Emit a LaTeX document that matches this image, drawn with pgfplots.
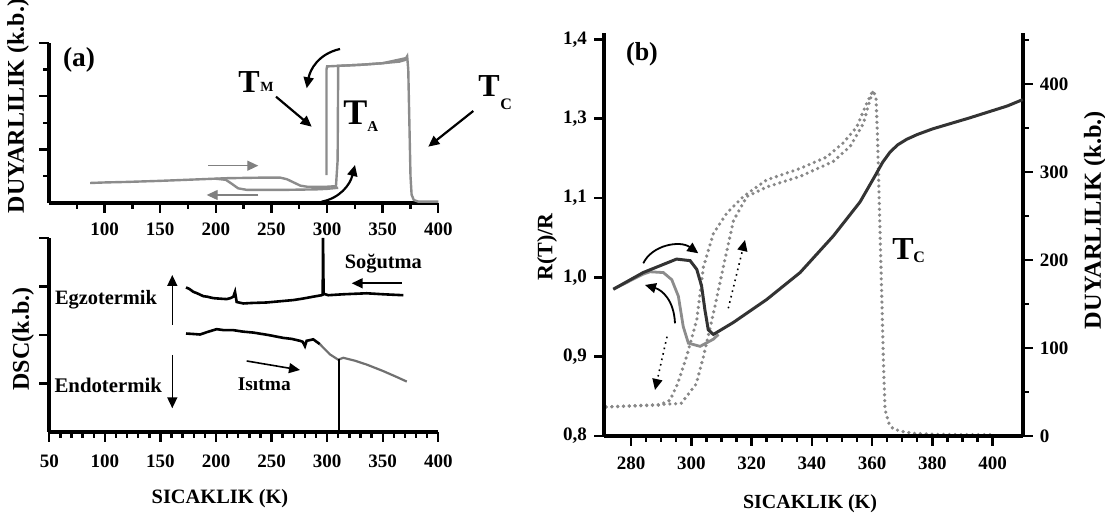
\documentclass[border=0pt]{standalone}
\usepackage{pgfplots}
\pgfplotsset{compat=1.18}
\usepackage{fontspec}
\setmainfont{Liberation Serif}
\usetikzlibrary{arrows.meta}
\definecolor{lgray}{HTML}{8C8C8C}
\definecolor{dgray}{HTML}{333333}
\definecolor{dotgray}{HTML}{888888}
\begin{document}
\begin{tikzpicture}[font=\bfseries]
\path[use as bounding box] (0,0) rectangle (552.5pt,261pt);
\pgfplotsset{
  base/.style={scale only axis, anchor=south west, clip=false,
    axis line style={-, line width=2pt, black},
    tick align=outside, tick style={black, line width=1.2pt},
    major tick length=5pt, minor tick length=3pt,
    ticklabel style={font=\fontsize{9.5}{10}\selectfont\bfseries},
    /pgf/number format/assume math mode=true,
    /pgf/number format/set thousands separator={},
  },
}
% ---------------- panel (a) top ----------------
\begin{axis}[base, at={(24.5pt,159.65pt)}, width=194.65pt, height=79.85pt,
  xmin=50, xmax=400, ymin=0, ymax=3,
  axis x line*=bottom, axis y line*=left,
  xtick={100,150,...,400}, minor xtick={75,125,...,375},
  ytick={1,2,3}, yticklabels={}, minor ytick={0.5,1.5,2.5},
  xticklabel style={yshift=-1.5pt}]
\addplot[lgray, line width=1.2pt] coordinates {
 (87,0.37)(100,0.38)(120,0.39)(150,0.41)(186,0.44)(210,0.46)(240,0.47)(258,0.47)
 (264,0.44)(270,0.38)(276,0.32)(282,0.30)(300,0.30)(308,0.31)(309.5,0.8)(310,2.57)
 (330,2.59)(350,2.62)(365,2.65)(370,2.68)(372,2.75)(373,2.5)(374,1.5)(375,0.5)
 (376,0.15)(378,0.05)(382,0.02)(400,0.02)};
\addplot[lgray, line width=1.2pt] coordinates {
 (372,2.72)(350,2.62)(330,2.59)(310,2.57)(300,2.56)(299.5,2.5)(299.5,0.52)};
\addplot[lgray, line width=1.2pt] coordinates {
 (310,0.28)(300,0.26)(290,0.25)(260,0.24)(228,0.24)(220,0.27)(214,0.36)(209,0.43)(200,0.45)};
\end{axis}
% ---------------- panel (a) bottom ----------------
\begin{axis}[base, at={(24.65pt,45pt)}, width=194.5pt, height=97pt,
  xmin=50, xmax=400, ymin=0, ymax=4,
  axis x line*=bottom, axis y line*=left,
  xtick={50,100,...,400}, minor x tick num=4,
  ytick={1,2,3,4}, yticklabels={},
  xticklabel style={yshift=-3pt}]
\addplot[black, line width=1.3pt] coordinates {
 (173,2.98)(176,2.95)(179.6,2.89)(183,2.86)(188.6,2.80)(192,2.79)(197.5,2.76)(203,2.75)
 (209.6,2.74)(213,2.76)(215.6,2.79)(217.1,2.89)(218.6,2.68)(224.6,2.65)(232,2.66)
 (245.6,2.67)(255,2.69)(269.5,2.72)(278,2.75)(287.5,2.79)(295,2.82)(296,2.83)
 (296.3,4.0)(296.8,2.85)(301,2.82)(315,2.84)(335.6,2.86)(350,2.84)(368.5,2.82)};
\addplot[black, line width=1.3pt] coordinates {
 (173,2.03)(180,2.02)(185.6,2.01)(192,2.06)(200.6,2.12)(207,2.10)(215.6,2.10)
 (224,2.07)(233.5,2.05)(247,2.00)(260.5,1.94)(268,1.92)(275.5,1.88)(278,1.86)(280,1.77)
 (281.5,1.88)(287.5,1.91)(293.5,1.81)};
\addplot[lgray!80!black, line width=1.1pt] coordinates {
 (293.5,1.81)(302.5,1.60)(310,1.49)(314.5,1.53)(325,1.47)(335.6,1.39)(350,1.26)(362,1.14)(371.6,1.04)};
\addplot[black, line width=1.3pt] coordinates {(310.5,1.50)(310.5,0)};
\end{axis}
% ---------------- panel (b) ----------------
\begin{axis}[base, at={(302pt,43pt)}, width=209.35pt, height=201.5pt,
  xmin=271, xmax=410, ymin=0, ymax=458,
  axis y line*=right, axis x line=none,
  ytick={0,100,...,400}, minor ytick={50,150,...,450}]
\addplot[dotgray, line width=1.8pt, line cap=round, dash pattern=on 0pt off 2.9pt] coordinates {
 (271.7,33)(280,34)(289.1,35)(292.9,40.5)(295.4,59)(298.4,90)(301.8,132)(304,192)
 (307.3,230)(311.7,253)(317.2,272)(325,291)(336.1,304)(344.9,317)(350.4,333)(354.9,351)
 (358.2,378)(359.9,390)(360.4,392)(361.3,385)(361.8,340)(362.5,250)(363.2,160)(363.8,80)
 (364.3,30)(365.5,15)(367,8)(370.3,5)(373.6,3)(380,2)(390,1.5)(400,1.5)};
\addplot[dotgray, line width=1.8pt, line cap=round, dash pattern=on 0pt off 2.9pt] coordinates {
 (271.7,33)(285,35)(296.6,37)(301.6,59)(304,90)(307.3,139)(310.6,192)(314,245)
 (318.4,272)(325,283)(336.1,295)(347.1,312)(352.7,329)(357.1,355)(359.3,382)(360.4,392)};
\end{axis}
\begin{axis}[base, at={(302pt,43pt)}, width=209.35pt, height=201.5pt,
  xmin=271, xmax=410, ymin=0.8, ymax=1.308,
  axis y line*=left, axis x line*=bottom,
  xtick={280,300,...,400}, minor x tick num=3,
  ytick={0.8,0.9,1.0,1.1,1.2,1.3}, yticklabels={{0,8},{0,9},{1,0},{1,1},{1,3},{1,4}},
  xticklabel style={yshift=-2pt}]
\addplot[lgray, line width=1.4pt] coordinates {
 (274.1,0.985)(284,1.004)(286.3,1.007)(290.7,1.006)(293.5,0.997)(295.7,0.976)
 (297.3,0.938)(299,0.917)(302.9,0.913)(307.3,0.922)(309,0.928)};
\addplot[dgray, line width=1.5pt] coordinates {
 (274.1,0.985)(284,1.006)(295.1,1.023)(299.6,1.021)(301.8,1.010)(303.4,0.989)(304.5,0.959)
 (305.6,0.934)(307.3,0.928)(313.9,0.943)(325,0.972)(336.1,1.006)(347.1,1.052)(356,1.095)
 (361,1.128)(363.5,1.145)(366,1.158)(368.5,1.167)(371.5,1.174)(375,1.180)(380,1.187)
 (392.4,1.201)(404.9,1.216)(410,1.224)};
\end{axis}
% ---------------- annotations (pixel coordinates) ----------------
\begin{scope}[shift={(0pt,261pt)}, x=0.5pt, y=-0.5pt]
\tikzset{ah/.style={-{Triangle[length=5.5pt,width=5pt]}}}
% panel a top
\node[font=\fontsize{13.7}{14}\selectfont\bfseries] at (79,60) {(a)};
\node[anchor=base west, inner sep=0, font=\fontsize{16}{16}\selectfont\bfseries] at (238,93) {T};
\node[anchor=base west, inner sep=0, font=\fontsize{7}{7}\selectfont\bfseries] at (260,92) {M};
\node[anchor=base west, inner sep=0, font=\fontsize{18}{18}\selectfont\bfseries] at (343,125) {T};
\node[anchor=base west, inner sep=0, font=\fontsize{7.5}{7.5}\selectfont\bfseries] at (367,132) {A};
\node[anchor=base west, inner sep=0, font=\fontsize{16}{16}\selectfont\bfseries] at (478,97) {T};
\node[anchor=base west, inner sep=0, font=\fontsize{8}{8}\selectfont\bfseries] at (500,110) {C};
\draw[ah, line width=1.1pt] (340,49) .. controls (318,54) and (310,70) .. (306.7,88.3);
\draw[ah, line width=1.1pt] (276,96.7) -- (311.7,126.7);
\draw[ah, line width=1.1pt] (321.7,201.7) .. controls (340,198) and (350,185) .. (355,165);
\draw[ah, line width=1.1pt] (473.3,111) -- (428.3,146.7);
\draw[ah, line width=0.6pt, gray] (208.3,165.7) -- (258.3,165.7);
\draw[ah, line width=0.6pt, gray] (258.3,195) -- (206.7,195);
\node[rotate=90, font=\fontsize{12}{12}\selectfont\bfseries] at (18,106) {DUYARLILIK (k.b.)};
% panel a bottom
\node[font=\fontsize{10.2}{11}\selectfont\bfseries] at (106,300) {Egzotermik};
\node[font=\fontsize{10.4}{11}\selectfont\bfseries] at (108.3,385) {Endotermik};
\node[font=\fontsize{10.2}{11}\selectfont\bfseries] at (383.3,263.3) {Soğutma};
\node[font=\fontsize{9.7}{11}\selectfont\bfseries] at (264.3,384) {Isıtma};
\draw[ah, line width=0.8pt] (172.3,325) -- (172.3,275);
\draw[ah, line width=0.8pt] (172.3,355) -- (172.3,408.3);
\draw[ah, line width=0.8pt] (401.7,283.3) -- (351.7,283.3);
\draw[ah, line width=0.8pt] (246.7,361) -- (300,370);
\node[rotate=90, font=\fontsize{12}{12}\selectfont\bfseries] at (23,339) {DSC(k.b.)};
\node[font=\fontsize{10.2}{11}\selectfont\bfseries] at (220,499) {SICAKLIK (K)};
% panel b
\node[font=\fontsize{13}{13}\selectfont\bfseries] at (642,54) {(b)};
\node[anchor=base west, inner sep=0, font=\fontsize{16}{16}\selectfont\bfseries] at (892,260) {T};
\node[anchor=base west, inner sep=0, font=\fontsize{8}{8}\selectfont\bfseries] at (913,263) {C};
\draw[ah, line width=0.9pt] (643.3,263.3) .. controls (652,245) and (680,240) .. (698.3,253.3);
\draw[ah, line width=0.9pt] (675,323.3) .. controls (674,300) and (662,290) .. (645,285);
\draw[ah, line width=0.8pt, dotted] (667,336.7) -- (655,390);
\draw[ah, line width=0.8pt, dotted] (728.3,308.3) -- (745,240);
\node[rotate=90, font=\fontsize{11}{11}\selectfont\bfseries] at (547,247) {R(T)/R};
\node[rotate=90, font=\fontsize{12.2}{12}\selectfont\bfseries] at (1095,220) {DUYARLILIK (k.b.)};
\node[font=\fontsize{10}{11}\selectfont\bfseries] at (810,504) {SICAKLIK (K)};
\end{scope}
\end{tikzpicture}
\end{document}
